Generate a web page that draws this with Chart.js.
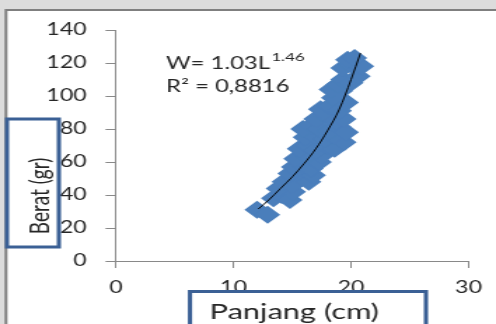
<!DOCTYPE html>
<html>
<head>
<meta charset="utf-8">
<script src="https://cdn.jsdelivr.net/npm/chart.js@4"></script>
<style>
  html, body { margin: 0; padding: 0; background: #dcdcdc; overflow: hidden; }
  /* the reference is stretched sideways, so draw narrow and stretch */
  #wrap { width: 354px; height: 324px; transform: scaleX(1.4011); transform-origin: 0 0; }
</style>
</head>
<body>
<div id="wrap"><canvas id="chart"></canvas></div>
<script>
// Panjang (cm) vs Berat (gr)
const lengthCm = [12.0, 12.9, 13.4, 14.1, 14.8, 15.1, 13.8, 14.3, 15.0, 15.7, 16.4, 16.8, 14.8,
  15.1, 15.9, 16.6, 17.3, 15.3, 16.2, 17.5, 15.6, 16.4, 17.1, 17.9, 18.6, 19.4, 16.1, 16.9, 17.7, 18.5,
  15.9, 16.6, 17.4, 18.2, 19.0, 19.6, 17.0, 17.9, 18.7, 19.4, 17.4, 18.2, 19.0, 19.6, 18.5,
  18.3, 19.1, 18.9, 19.3, 20.0, 20.6, 19.3, 20.0, 20.9, 19.7, 20.3];
const weightGr = [31, 28, 38, 40, 37, 42, 44, 48, 46, 50, 48, 52, 53,
  57, 58, 56, 60, 62, 64, 64, 68, 70, 67, 70, 68, 72, 75, 76, 74, 76,
  80, 82, 80, 79, 81, 78, 86, 88, 85, 86, 92, 94, 91, 96, 99,
  104, 103, 107, 110, 108, 112, 117, 119, 118, 122, 123];

// trend line as it appears in the picture
const trendL = [12.1, 13.0, 14.0, 15.0, 16.0, 17.0, 18.0, 19.0, 20.0, 20.8];
const trendW = [31.5, 37, 44, 51, 59, 68, 79, 92, 110, 126];

const xTicks = [0, 10, 20, 30];
const yTicks = [0, 20, 40, 60, 80, 100, 120, 140];

const axisGrey = '#898989';
const boxBlue = '#3b6095';

const decor = {
  id: 'decor',
  beforeDraw(chart) {
    const ctx = chart.ctx;
    ctx.save();
    ctx.fillStyle = '#dcdcdc';
    ctx.fillRect(0, 0, chart.width, chart.height);
    ctx.fillStyle = '#fff';
    ctx.fillRect(4.3, 10, chart.width, chart.height);
    ctx.strokeStyle = '#7f7f7f';
    ctx.lineWidth = 2;
    ctx.beginPath();
    ctx.moveTo(4.3, chart.height);
    ctx.lineTo(4.3, 10);
    ctx.lineTo(chart.width, 10);
    ctx.stroke();
    ctx.restore();
  },
  afterDraw(chart) {
    const ctx = chart.ctx;
    ctx.save();
    ctx.fillStyle = '#262626';

    // equation of the trend line
    ctx.textBaseline = 'alphabetic';
    ctx.textAlign = 'left';
    ctx.font = '17px Lato';
    const eq = 'W= 1.03L';
    ctx.fillText(eq, 118.5, 69);
    const w = ctx.measureText(eq).width;
    ctx.font = '12px Lato';
    ctx.fillText('1.46', 118.5 + w + 1, 61);
    ctx.font = '17px Lato';
    ctx.fillText('R\u00b2 = 0,8816', 118.5, 92);

    // y axis title in its box
    ctx.fillStyle = '#fff';
    ctx.fillRect(5, 119, 37, 128);
    ctx.strokeStyle = boxBlue;
    ctx.lineWidth = 3;
    ctx.strokeRect(5, 119, 37, 128);
    ctx.fillStyle = '#262626';
    ctx.translate(29, 196);
    ctx.rotate(-Math.PI / 2);
    ctx.font = '19px Lato';
    ctx.textAlign = 'center';
    ctx.textBaseline = 'middle';
    ctx.fillText('Berat (gr)', 0, 0);
    ctx.setTransform(1, 0, 0, 1, 0, 0);

    // x axis title in its box
    ctx.fillStyle = '#fff';
    ctx.fillRect(135.6, 291.5, 168.4, 40);
    ctx.strokeStyle = boxBlue;
    ctx.strokeRect(135.6, 291.5, 168.4, 40);
    ctx.fillStyle = '#262626';
    ctx.font = '22px Lato';
    ctx.textAlign = 'center';
    ctx.textBaseline = 'alphabetic';
    ctx.fillText('Panjang (cm)', 210, 319);
    ctx.restore();
  }
};

new Chart(document.getElementById('chart'), {
  type: 'scatter',
  data: {
    datasets: [{
      label: 'Berat',
      order: 1,
      data: lengthCm.map((l, i) => ({ x: l, y: weightGr[i] })),
      pointStyle: 'rectRot',
      pointRadius: 9,
      backgroundColor: '#4a7ebb',
      borderColor: '#4a7ebb',
      borderWidth: 0
    }, {
      label: 'Trend',
      type: 'line',
      order: 0,
      data: trendL.map((l, i) => ({ x: l, y: trendW[i] })),
      borderColor: '#000',
      borderWidth: 1,
      pointRadius: 0,
      cubicInterpolationMode: 'monotone',
      fill: false
    }]
  },
  options: {
    responsive: true,
    maintainAspectRatio: false,
    animation: false,
    layout: { padding: { top: 30, right: 18.6, left: 0, bottom: 0 } },
    plugins: { legend: { display: false }, tooltip: { enabled: false } },
    scales: {
      x: {
        type: 'linear', min: 0, max: 30,
        afterBuildTicks: s => { s.ticks = xTicks.map(v => ({ value: v })); },
        afterFit: s => { s.height = 63; },
        grid: { drawOnChartArea: false, drawTicks: true, tickLength: 7, color: axisGrey },
        border: { color: axisGrey },
        ticks: { color: '#262626', padding: 10, font: { family: 'Lato', size: 16.5 } }
      },
      y: {
        min: 0, max: 140,
        afterBuildTicks: s => { s.ticks = yTicks.map(v => ({ value: v })); },
        afterFit: s => { s.width = 82.8; },
        grid: { drawOnChartArea: false, drawTicks: true, tickLength: 7.5, color: axisGrey },
        border: { color: axisGrey },
        ticks: { color: '#262626', padding: 13.5, font: { family: 'Lato', size: 16.5 } }
      }
    }
  },
  plugins: [decor]
});
</script>
</body>
</html>
